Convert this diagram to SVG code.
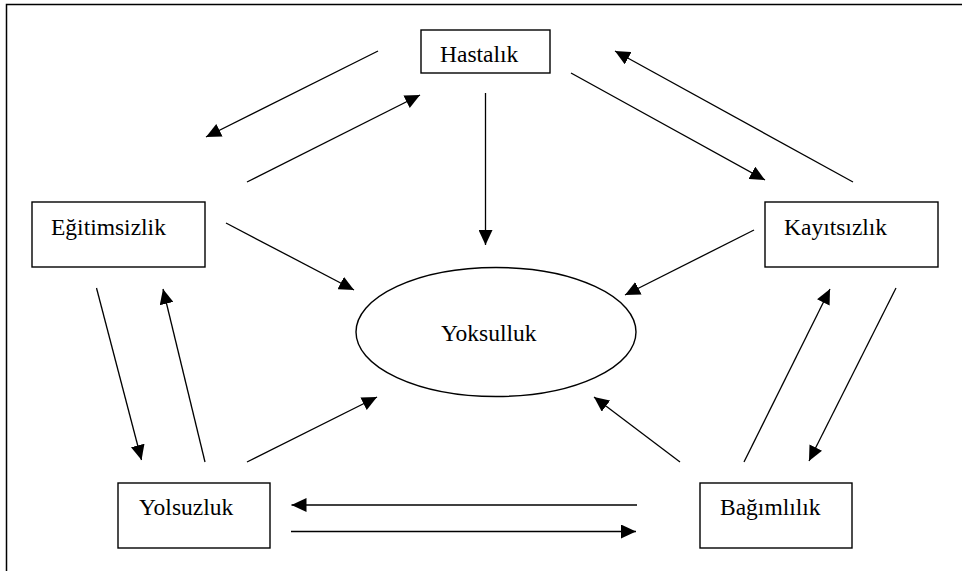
<svg xmlns="http://www.w3.org/2000/svg" width="962" height="571" viewBox="0 0 962 571">
<style>
.box{fill:#fff;stroke:#000;stroke-width:1.4}
.lbl{font-family:"Liberation Serif","Times New Roman",serif;font-size:23.5px;fill:#000}
.c{stroke:#000;stroke-width:1.3;fill:none;marker-end:url(#ah)}
</style>
<defs>
<marker id="ah" markerUnits="userSpaceOnUse" markerWidth="16" markerHeight="14" refX="15" refY="7" orient="auto">
<path d="M0,0 L15,7 L0,14 z" fill="#000"/>
</marker>
</defs>
<rect width="962" height="571" fill="#fff"/>
<path d="M6.5,575 V4.5 H966" fill="none" stroke="#000" stroke-width="1.5"/>
<g id="connectors">
<line class="c" x1="378" y1="51" x2="206" y2="137"/>
<line class="c" x1="247" y1="182" x2="420" y2="95"/>
<line class="c" x1="485.5" y1="93" x2="485.5" y2="245"/>
<line class="c" x1="571" y1="73" x2="765" y2="180"/>
<line class="c" x1="853" y1="182" x2="615" y2="51"/>
<line class="c" x1="754" y1="230" x2="625" y2="295"/>
<line class="c" x1="226" y1="223" x2="354" y2="290"/>
<line class="c" x1="96.5" y1="288" x2="141.5" y2="460"/>
<line class="c" x1="205" y1="462" x2="163" y2="289"/>
<line class="c" x1="247" y1="462" x2="377" y2="397"/>
<line class="c" x1="637" y1="505" x2="291.5" y2="505"/>
<line class="c" x1="291" y1="531.5" x2="636" y2="531.5"/>
<line class="c" x1="680" y1="462" x2="594" y2="397"/>
<line class="c" x1="744" y1="462" x2="830" y2="289"/>
<line class="c" x1="896" y1="288" x2="809" y2="461"/>
</g>
<g id="hastalik">
<rect class="box" x="421" y="30" width="129" height="43"/>
<text class="lbl" x="440" y="62">Hastalık</text>
</g>
<g id="egitimsizlik">
<rect class="box" x="32" y="202" width="173" height="65"/>
<text class="lbl" x="51" y="235">Eğitimsizlik</text>
</g>
<g id="kayitsizlik">
<rect class="box" x="765" y="202" width="173" height="65"/>
<text class="lbl" x="784" y="235">Kayıtsızlık</text>
</g>
<g id="yoksulluk">
<ellipse class="box" cx="496" cy="332" rx="140" ry="64.5"/>
<text class="lbl" x="441" y="341">Yoksulluk</text>
</g>
<g id="yolsuzluk">
<rect class="box" x="118" y="483" width="152" height="65"/>
<text class="lbl" x="139" y="515">Yolsuzluk</text>
</g>
<g id="bagimlilik">
<rect class="box" x="700" y="483" width="152" height="65"/>
<text class="lbl" x="720" y="515">Bağımlılık</text>
</g>
</svg>
